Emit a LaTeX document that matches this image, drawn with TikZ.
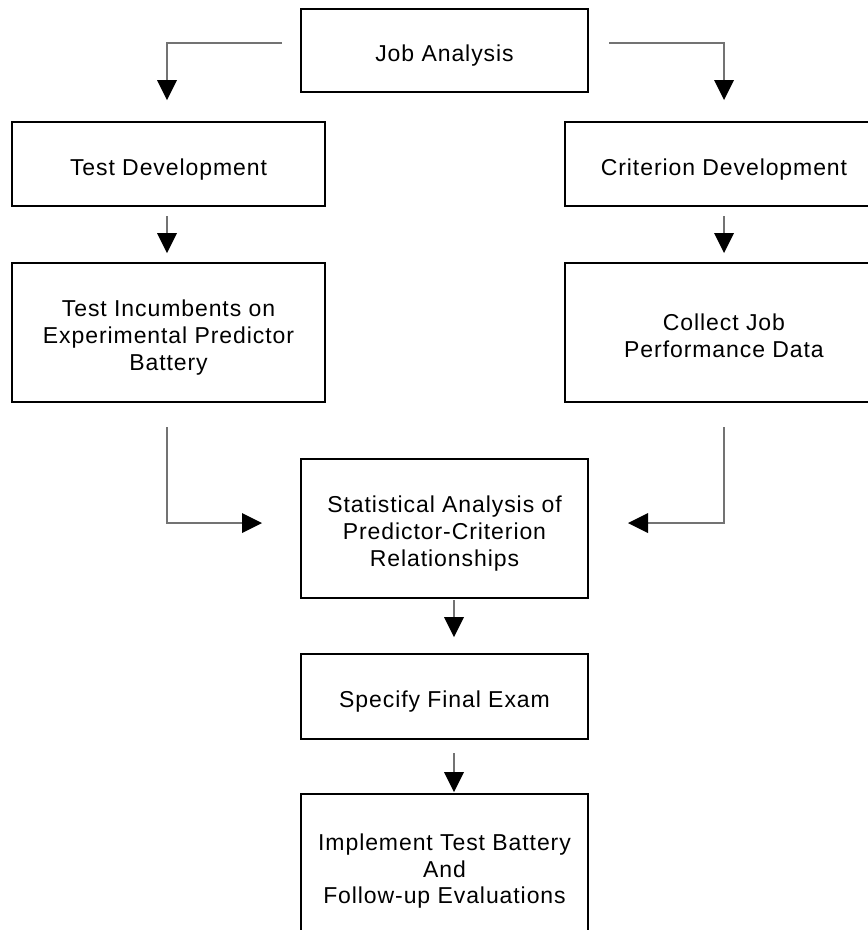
\documentclass[tikz,border=0pt]{standalone}
\usepackage{fontspec}
\setmainfont[LetterSpace=4.0]{Liberation Sans}
\usetikzlibrary{arrows.meta,calc}
\newcommand\mystrut{\rule[-8pt]{0pt}{26.7pt}}
\tikzset{
  box/.style={draw=black, line width=2pt, inner sep=0pt, outer sep=0pt},
  lbl/.style={align=center, inner sep=0pt, font=\fontsize{23}{26.7}\selectfont},
  conn/.style={draw=black!55, line width=1.3pt,
    -{Triangle[width=20pt,length=20pt,color=black,fill=black,line width=0pt]}},
}
\begin{document}
\begin{tikzpicture}[x=1pt,y=-1pt]
\useasboundingbox (0,0) rectangle (868,930);
\clip (0,0) rectangle (868,930);
% boxes
\node[box, minimum width=287pt, minimum height=83pt]  (JA) at (444.5,50.5) {};
\node[box, minimum width=313pt, minimum height=84pt]  (TD) at (168.5,164) {};
\node[box, minimum width=318pt, minimum height=84pt]  (CD) at (724,164) {};
\node[box, minimum width=313pt, minimum height=139pt] (TI) at (168.5,332.5) {};
\node[box, minimum width=318pt, minimum height=139pt] (CJ) at (724,332.5) {};
\node[box, minimum width=287pt, minimum height=139pt] (SA) at (444.5,528.5) {};
\node[box, minimum width=287pt, minimum height=85pt]  (SF) at (444.5,696.5) {};
\node[box, minimum width=287pt, minimum height=144pt] (IT) at (444.5,866) {};
% labels
\node[lbl] (tJA) at ($(JA.center)+(0,5.8)$) {\mystrut Job Analysis};
\node[lbl] (tTD) at ($(TD.center)+(0,5.8)$) {\mystrut Test Development};
\node[lbl] (tCD) at ($(CD.center)+(0,5.8)$) {\mystrut Criterion Development};
\node[lbl] (tTI) at ($(TI.center)+(0,5.8)$) {\mystrut Test Incumbents on\\\mystrut Experimental Predictor\\\mystrut Battery};
\node[lbl] (tCJ) at ($(CJ.center)+(0,5.8)$) {\mystrut Collect Job\\\mystrut Performance Data};
\node[lbl] (tSA) at ($(SA.center)+(0,5.8)$) {\mystrut Statistical Analysis of\\\mystrut Predictor-Criterion\\\mystrut Relationships};
\node[lbl] (tSF) at ($(SF.center)+(0,5.8)$) {\mystrut Specify Final Exam};
\node[lbl] (tIT) at ($(IT.center)+(0,5.8)$) {\mystrut Implement Test Battery\\\mystrut And\\\mystrut Follow-up Evaluations};
% connector ends
\coordinate (jaL) at (282,43);   \coordinate (tdIn) at (167,100);
\coordinate (jaR) at (609,43);   \coordinate (cdIn) at (724,100);
\coordinate (tdOut) at (167,216); \coordinate (tiIn) at (167,253);
\coordinate (cdOut) at (724,216); \coordinate (cjIn) at (724,253);
\coordinate (tiOut) at (167,427); \coordinate (saInL) at (262,523);
\coordinate (cjOut) at (724,427); \coordinate (saInR) at (628,523);
\coordinate (saOut) at (454,600); \coordinate (sfIn) at (454,637);
\coordinate (sfOut) at (454,753); \coordinate (itIn) at (454,792);
% connectors
\draw[conn] (jaL) -| (tdIn);
\draw[conn] (jaR) -| (cdIn);
\draw[conn] (tdOut) -- (tiIn);
\draw[conn] (cdOut) -- (cjIn);
\draw[conn] (tiOut) |- (saInL);
\draw[conn] (cjOut) |- (saInR);
\draw[conn] (saOut) -- (sfIn);
\draw[conn] (sfOut) -- (itIn);
\end{tikzpicture}
\end{document}
